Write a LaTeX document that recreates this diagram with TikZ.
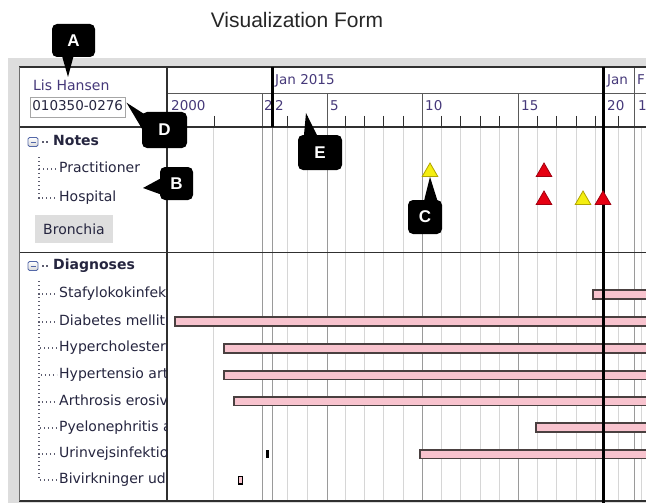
\documentclass[tikz,border=0pt]{standalone}
\usepackage{fontspec}
\setmainfont{DejaVu Sans}
\newfontfamily\arialf{Liberation Sans}
\usetikzlibrary{shapes.geometric,calc}
\definecolor{framegray}{HTML}{DDDDDD}
\definecolor{txt}{HTML}{25253F}
\definecolor{hdr}{HTML}{46397A}
\definecolor{gridl}{HTML}{D6D6D6}
\definecolor{gridm}{HTML}{9A9A9A}
\definecolor{rule}{HTML}{303030}
\definecolor{pinkbar}{HTML}{F8C3CE}
\definecolor{barline}{HTML}{4A4040}
\definecolor{tyellow}{HTML}{F4EE10}
\definecolor{tyellowl}{HTML}{B0A400}
\definecolor{tred}{HTML}{E60012}
\definecolor{tredl}{HTML}{A00010}
\definecolor{btn}{HTML}{DEDEDE}
\definecolor{iconb}{HTML}{5468A8}
\begin{document}
\begin{tikzpicture}[x=1pt,y=-1pt,
  lbl/.style={anchor=west, inner sep=0pt, text=txt, font=\fontsize{14}{16}\selectfont, text height=10pt, text depth=3pt},
  hlbl/.style={lbl, text=hdr, font=\fontsize{13.5}{16}\selectfont},
  boldlbl/.style={lbl, font=\fontsize{14}{16}\selectfont\bfseries},
  callout/.style={fill=black, rounded corners=5pt, text=white, font=\arialf\bfseries\fontsize{17}{17}\selectfont, inner sep=0pt},
  tri/.style={regular polygon, regular polygon sides=3, minimum size=18pt, inner sep=0pt, line width=0.8pt},
  bar/.style={fill=pinkbar, draw=barline, line width=1.2pt},
  gl/.style={draw=gridl, line width=0.8pt},
  gm/.style={draw=gridm, line width=0.9pt},
  hrule/.style={draw=rule, line width=1.1pt},
  treeline/.style={draw=txt!75, line width=1.3pt, dash pattern=on 1.3pt off 2.7pt},
  icon/.style={draw=iconb, line width=0.9pt, rounded corners=1.5pt, top color=white, bottom color=gray!30, minimum width=10pt, minimum height=9pt, inner sep=0pt}
]
\useasboundingbox (0,0) rectangle (646,503);
% title
\node[font=\arialf\fontsize{21}{24}\selectfont, text=black!85] (title) at (297,20) {Visualization Form};
% frame
\fill[framegray] (8,58) rectangle (660,510);
\fill[white] (19,67) rectangle (660,501);
% body grid lines
\foreach \x in {213,287,307,345,364,383,403,441,460,480,499,537,556,576,595,618,641}
  \draw[gl] (\x,127) -- (\x,501);
\foreach \x in {262,272,327,422,518,634}
  \draw[gm] (\x,127) -- (\x,501);
% header ticks
\foreach \x in {214,287,307,345,364,383,403,441,460,480,499,537,556,576,595,618}
  \draw[draw=rule, line width=1pt] (\x,116) -- (\x,127);
\foreach \x in {262,327,422,518,634}
  \draw[draw=rule!80, line width=1pt] (\x,94) -- (\x,127);
\draw[draw=rule!80, line width=1pt] (634,67) -- (634,94);
% horizontal rules
\draw[hrule] (19,67) -- (660,67);
\draw[draw=rule!80, line width=1pt] (167,94) -- (660,94);
\draw[hrule] (19,127) -- (660,127);
\draw[hrule] (19,252.5) -- (660,252.5);
\draw[hrule] (19,501) -- (660,501);
\draw[hrule] (167,67) -- (167,501);
\draw[draw=rule!70, line width=0.8pt] (19,67) -- (19,501);
% header labels
\node[lbl, text=hdr] (name) at (33,87) {Lis Hansen};
\node[lbl, draw=gray!70, line width=0.7pt, inner xsep=2pt, inner ysep=3.5pt, font=\fontsize{13.5}{16}\selectfont] (cpr) at (30,107) {010350-0276};
\node[hlbl] (jan15) at (275,81) {Jan 2015};
\node[hlbl] (jan2) at (607,81) {Jan};
\node[hlbl] (feb) at (637,81) {F};
\node[hlbl] (y2000) at (171,107) {2000};
\node[hlbl] (d2a) at (264,107) {2};
\node[hlbl] (d2b) at (275,107) {2};
\node[hlbl] (d5) at (330,107) {5};
\node[hlbl] (d10) at (425,107) {10};
\node[hlbl] (d15) at (521,107) {15};
\node[hlbl] (d20) at (607,107) {20};
\node[hlbl] (d1) at (638,107) {1};
% Notes section
\node[icon] (nicon) at (33,142) {};
\draw[line width=1pt, iconb] (30.5,142) -- (35.5,142);
\node[boldlbl] (notes) at (53,142) {Notes};
\draw[treeline] ([xshift=4pt]nicon.east) -- ([xshift=-5pt]notes.west);
\node[lbl] (prac) at (59,169) {Practitioner};
\node[lbl] (hosp) at (59,198) {Hospital};
\coordinate (nroot) at (39,157);
\draw[treeline] (nroot) |- ([xshift=-2pt]prac.west);
\draw[treeline] (nroot) |- ([xshift=-2pt]hosp.west);
\node[fill=btn, minimum width=78pt, minimum height=28pt, inner sep=0pt, text=txt, font=\fontsize{14}{16}\selectfont] (bron) at (74,229) {Bronchia};
% Diagnoses section
\node[icon] (dicon) at (33,266) {};
\draw[line width=1pt, iconb] (30.5,266) -- (35.5,266);
\node[boldlbl] (diag) at (53,266) {Diagnoses};
\draw[treeline] ([xshift=4pt]dicon.east) -- ([xshift=-5pt]diag.west);
\coordinate (droot) at (39,281);
\begin{scope}
\clip (20,255) rectangle (166.4,500);
\node[lbl] (g1) at (59,294) {Stafylokokinfek};
\node[lbl] (g2) at (59,322) {Diabetes mellitu};
\node[lbl] (g3) at (59,348) {Hypercholestero};
\node[lbl] (g4) at (59,375) {Hypertensio art};
\node[lbl] (g5) at (59,402) {Arthrosis erosiv};
\node[lbl] (g6) at (59,428) {Pyelonephritis a};
\node[lbl] (g7) at (59,454) {Urinvejsinfektio};
\node[lbl] (g8) at (59,480) {Bivirkninger ud};
\end{scope}
\foreach \g in {g1,g2,g3,g4,g5,g6,g7,g8}
  \draw[treeline] (droot) |- ([xshift=-2pt]\g.west);
% bars
\draw[bar] (593,290) rectangle (660,299);
\draw[bar] (175,317) rectangle (660,326);
\draw[bar] (224,344) rectangle (660,353);
\draw[bar] (224,371) rectangle (660,379.5);
\draw[bar] (234,397) rectangle (660,405.5);
\draw[bar] (536,423) rectangle (660,432);
\draw[bar] (420,450) rectangle (660,458.5);
\fill[black] (266,450) rectangle (268.5,458);
\draw[fill=pinkbar, draw=black, line width=1.2pt] (238.5,476.5) rectangle (242.5,484);
% thick lines
\draw[black, line width=3pt] (272,67) -- (272,127);
\draw[black, line width=3pt] (603.5,67) -- (603.5,503);
% triangles
\node[tri, fill=tyellow, draw=tyellowl] (t1) at (430,172) {};
\node[tri, fill=tred, draw=tredl] (t2) at (544,172) {};
\node[tri, fill=tred, draw=tredl] (t3) at (544,200) {};
\node[tri, fill=tyellow, draw=tyellowl] (t4) at (583,200) {};
\node[tri, fill=tred, draw=tredl] (t5) at (603,200) {};
% callouts
\node[callout, minimum width=43pt, minimum height=33pt] (A) at (73.5,40.5) {A};
\coordinate (Atip) at (68,77);
\fill[black] ($(A.south west)+(10,-2)$) -- (Atip) -- ($(A.south west)+(22,-2)$) -- cycle;
\node[callout, minimum width=45pt, minimum height=36pt] (D) at (164.5,130) {D};
\fill[black] ($(D.north west)+(2,2)$) -- ($(cpr.north east)+(1,6)$) -- ($(D.north west)+(2,20)$) -- cycle;
\node[callout, minimum width=33pt, minimum height=33pt] (B) at (176.5,183.5) {B};
\coordinate (Btip) at (143,188);
\fill[black] ($(B.north west)+(2,11)$) -- (Btip) -- ($(B.north west)+(2,28)$) -- cycle;
\node[callout, minimum width=44pt, minimum height=35pt] (E) at (320,152.5) {E};
\coordinate (Etip) at (306,113);
\fill[black] ($(E.north west)+(6,2)$) -- (Etip) -- ($(E.north west)+(20,2)$) -- cycle;
\node[callout, minimum width=34pt, minimum height=34pt] (C) at (425,217) {C};
\fill[black] ($(C.north west)+(16,2)$) -- (t1.south) -- ($(C.north west)+(30,2)$) -- cycle;
\end{tikzpicture}
\end{document}
